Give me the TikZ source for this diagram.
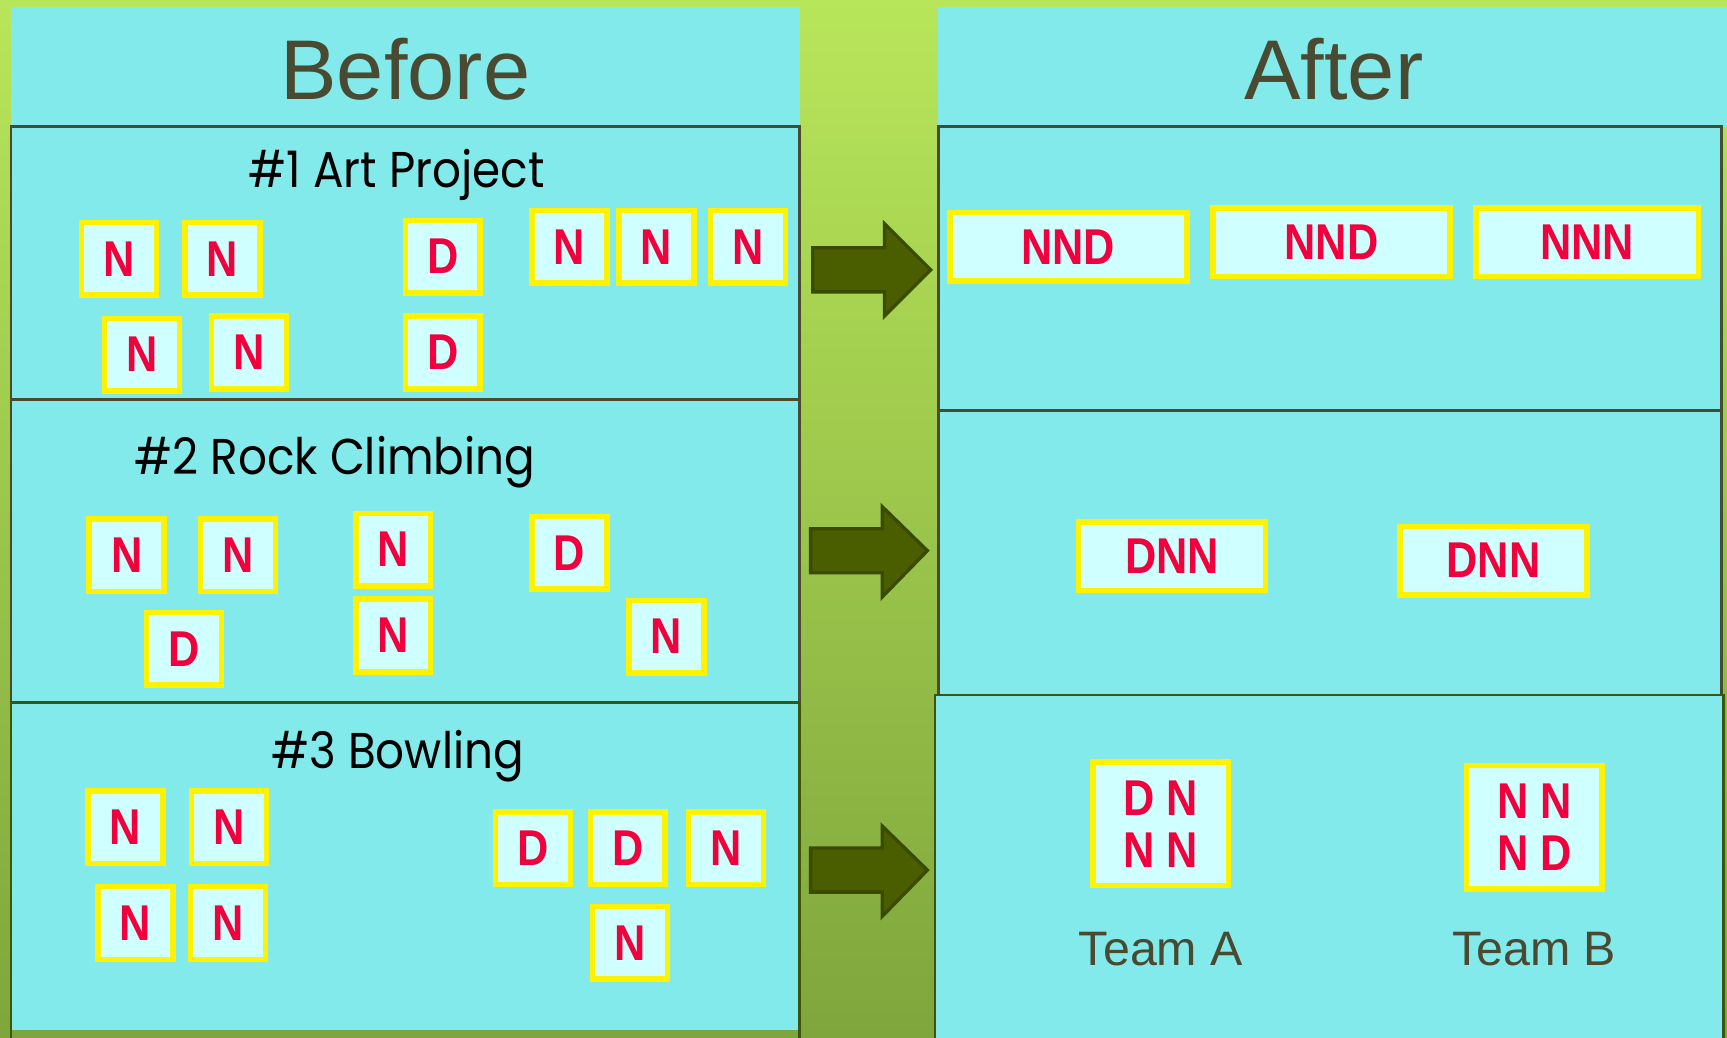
\documentclass[tikz,border=0pt]{standalone}
\usepackage{fontspec}
\setmainfont{Liberation Sans}
\newfontfamily\cardfont[FakeStretch=0.86]{Liberation Sans}
\newfontfamily\titlefont[FakeStretch=0.9]{Poppins}
\definecolor{bgtop}{RGB}{184,230,90}
\definecolor{bgbot}{RGB}{126,166,60}
\definecolor{panel}{RGB}{130,234,234}
\definecolor{edge}{RGB}{74,74,48}
\definecolor{edgegreen}{RGB}{60,85,10}
\definecolor{cardfill}{RGB}{208,255,255}
\definecolor{cardred}{RGB}{240,0,60}
\definecolor{arrowfill}{RGB}{74,94,0}
\definecolor{arrowedge}{RGB}{58,74,0}
\definecolor{headtext}{RGB}{74,74,50}
\begin{document}
\begin{tikzpicture}[x=0.02cm,y=-0.02cm,
  card/.style={draw=yellow, line width=0.1cm, fill=cardfill, text=cardred,
    font=\cardfont\bfseries\fontsize{26}{28}\selectfont, inner sep=0pt,
    minimum width=1.36cm, minimum height=1.32cm},
  wcard/.style={card, minimum height=1.24cm},
  tcard/.style={card, minimum width=2.46cm, minimum height=2.24cm, align=center,
    font=\cardfont\bfseries\fontsize{26}{27}\selectfont},
  box/.style={draw=edge, line width=0.05cm, fill=panel},
  head/.style={text=headtext, anchor=base, font=\fontsize{43.8}{50}\selectfont},
  title/.style={text=black, anchor=base, font=\titlefont\fontsize{26}{30}\selectfont},
  team/.style={text=headtext, anchor=base, font=\fontsize{25}{30}\selectfont},
  blockarrow/.style={fill=arrowfill, draw=arrowedge, line width=0.06cm, line join=miter}
]
\useasboundingbox (0,0) rectangle (1568,942);
\shade[top color=bgtop, bottom color=bgbot] (0,0) rectangle (1568,942);

% headers
\fill[panel] (10,6) rectangle (726,115);
\fill[panel] (852,6) rectangle (1568,115);
\node[head] (before) at (368,90) {Before};
\node[head] (after) at (1211,90) {After};

% left boxes
\draw[box] (10,115) rectangle (726,363);
\draw[box] (10,363) rectangle (726,638);
\fill[panel] (10,638) rectangle (726,935);
\draw[draw=edgegreen, line width=0.05cm] (10,942) -- (10,638) -- (726,638) -- (726,942);

% right boxes
\draw[box] (852,115) rectangle (1563,373);
\draw[box] (852,373) rectangle (1563,631);
\fill[panel] (849,631) rectangle (1565,942);
\draw[draw=edgegreen, line width=0.05cm] (849,942) -- (849,631) -- (1565,631) -- (1565,942);

% arrows
\draw[blockarrow] (738,225) -- (803,225) -- (803,203) -- (845,245) -- (803,287) -- (803,265) -- (738,265) -- cycle;
\draw[blockarrow] (736,480) -- (801,480) -- (801,460) -- (842,500) -- (801,542) -- (801,520) -- (736,520) -- cycle;
\draw[blockarrow] (736,770) -- (801,770) -- (801,750) -- (842,790) -- (801,832) -- (801,810) -- (736,810) -- cycle;

% titles
\node[title] (t1) at (360,170) {\#1 Art Project};
\node[title] (t2) at (304,431) {\#2 Rock Climbing};
\node[title] (t3) at (361,698) {\#3 Bowling};

% box 1 cards
\node[card] (a1) at (108,235) {N};
\node[card] (a2) at (202,235) {N};
\node[card] (a3) at (402,233) {D};
\node[card] (a4) at (517,224) {N};
\node[card] (a5) at (596,224) {N};
\node[card] (a6) at (679,224) {N};
\node[card] (a7) at (129,322) {N};
\node[card] (a8) at (226,320) {N};
\node[card] (a9) at (402,320) {D};

% box 2 cards
\node[card] (b1) at (115,504) {N};
\node[card] (b2) at (216,504) {N};
\node[card] (b3) at (357,499) {N};
\node[card] (b4) at (517,502) {D};
\node[card] (b5) at (167,589) {D};
\node[card] (b6) at (357,577) {N};
\node[card] (b7) at (605,578) {N};

% box 3 cards
\node[card] (c1) at (114,751) {N};
\node[card] (c2) at (208,751) {N};
\node[card] (c3) at (123,838) {N};
\node[card] (c4) at (207,838) {N};
\node[card] (c5) at (484,770) {D};
\node[card] (c6) at (570,770) {D};
\node[card] (c7) at (659,770) {N};
\node[card] (c8) at (572,856) {N};

% right cards
\node[wcard, minimum width=4.3cm] (r1) at (970,224) {NND};
\node[wcard, minimum width=4.3cm] (r2) at (1209,220) {NND};
\node[wcard, minimum width=4.04cm] (r3) at (1441,220) {NNN};
\node[wcard, minimum width=3.4cm] (s1) at (1064,505) {DNN};
\node[wcard, minimum width=3.4cm] (s2) at (1356,509) {DNN};
\node[tcard] (ta) at (1054,748) {D N\\N N};
\node[tcard] (tb) at (1393,751) {N N\\N D};
\node[team] (teamA) at (1054,877) {Team A};
\node[team] (teamB) at (1393,877) {Team B};
\end{tikzpicture}
\end{document}
